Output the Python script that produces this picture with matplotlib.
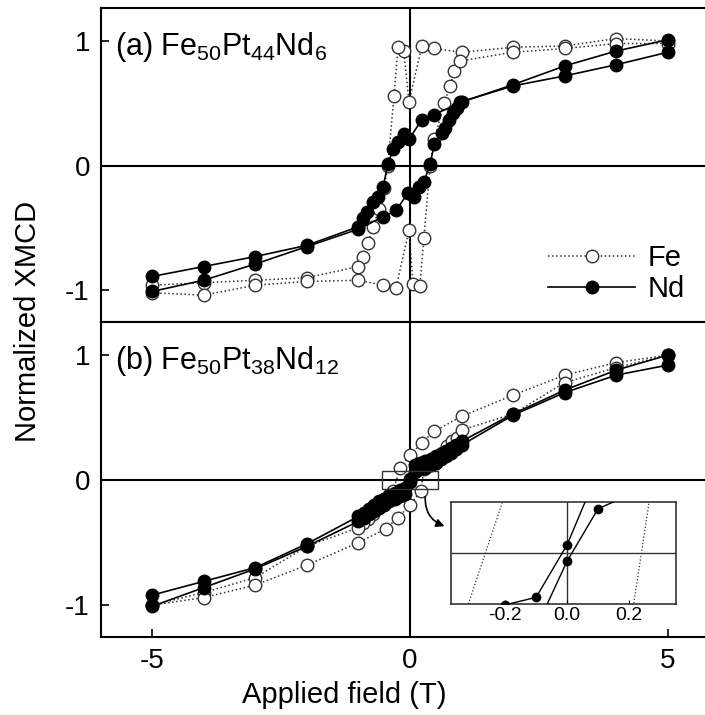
import matplotlib
matplotlib.use("Agg")
import matplotlib.pyplot as plt
from matplotlib.patches import Rectangle

plt.rcParams['font.family'] = 'Liberation Sans'
plt.rcParams['mathtext.fontset'] = 'custom'
plt.rcParams['mathtext.rm'] = 'Liberation Sans'
plt.rcParams['axes.unicode_minus'] = False

# (a) Fe50Pt44Nd6 - Fe loop, field going down then up
fe_a_down_x = [5, 4, 3, 2, 1, 0.47, 0.23, -0.02, -0.12, -0.23, -0.31, -0.43, -0.5, -0.6,
               -0.72, -0.81, -0.91, -1.0, -2, -3, -4, -5]
fe_a_down_y = [1.0, 1.02, 0.96, 0.95, 0.91, 0.94, 0.96, 0.51, 0.92, 0.95, 0.56, 0.0, -0.18, -0.35,
               -0.49, -0.62, -0.73, -0.81, -0.90, -0.92, -0.94, -0.96]
fe_a_up_x = [-5, -4, -3, -2, -1, -0.52, -0.27, -0.02, 0.06, 0.19, 0.27, 0.39, 0.47, 0.66,
             0.78, 0.85, 0.97, 2, 3, 4, 5]
fe_a_up_y = [-1.02, -1.04, -0.96, -0.93, -0.92, -0.96, -0.98, -0.52, -0.95, -0.97, -0.58, 0.0, 0.21, 0.5,
             0.64, 0.76, 0.84, 0.91, 0.94, 0.98, 0.98]

# (a) Nd loop
nd_a_down_x = [5, 4, 3, 2, 1, 0.47, 0.23, -0.02, -0.12, -0.23, -0.33, -0.43, -0.52, -0.62,
               -0.72, -0.83, -0.91, -1.0, -2, -3, -4, -5]
nd_a_down_y = [1.01, 0.92, 0.80, 0.65, 0.51, 0.41, 0.37, 0.21, 0.25, 0.19, 0.13, 0.01, -0.17, -0.25,
               -0.29, -0.37, -0.42, -0.49, -0.64, -0.73, -0.81, -0.89]
nd_a_up_x = [-5, -4, -3, -2, -1, -0.52, -0.27, -0.04, 0.08, 0.18, 0.27, 0.39, 0.47, 0.62,
             0.68, 0.76, 0.84, 0.91, 0.97, 2, 3, 4, 5]
nd_a_up_y = [-1.01, -0.92, -0.79, -0.65, -0.51, -0.41, -0.36, -0.22, -0.25, -0.17, -0.13, 0.01, 0.17, 0.26,
             0.30, 0.37, 0.42, 0.46, 0.51, 0.64, 0.72, 0.81, 0.91]

# (b) Fe50Pt38Nd12 - Fe loop
fe_b_down_x = [5, 4, 3, 2, 1, 0.47, 0.23, 0.0, -0.19, -0.33, -0.5, -0.62, -0.72, -0.81,
               -0.91, -1.0, -2, -3, -4, -5]
fe_b_down_y = [1.0, 0.94, 0.84, 0.68, 0.51, 0.39, 0.30, 0.20, 0.10, -0.09, -0.16, -0.22, -0.27, -0.31,
               -0.34, -0.38, -0.53, -0.78, -0.90, -1.0]
fe_b_up_x = [-5, -4, -3, -2, -1, -0.47, -0.23, 0.0, 0.21, 0.27, 0.5, 0.62, 0.72, 0.81,
             0.91, 1.0, 2, 3, 4, 5]
fe_b_up_y = [-1.0, -0.94, -0.84, -0.68, -0.50, -0.39, -0.30, -0.20, -0.09, 0.09, 0.16, 0.22, 0.27, 0.31,
             0.34, 0.40, 0.53, 0.78, 0.90, 1.0]

# (b) Nd loop
nd_b_down_x = [5, 4, 3, 2, 1, 0.9, 0.8, 0.7, 0.6, 0.5, 0.4, 0.3, 0.2, 0.1, 0.0,
               -0.1, -0.2, -0.3, -0.4, -0.5, -0.6, -0.7, -0.8, -0.9, -1, -2, -3, -4, -5]
nd_b_down_y = [1.0, 0.88, 0.72, 0.53, 0.31, 0.28, 0.26, 0.23, 0.21, 0.19, 0.17, 0.15, 0.14, 0.12, 0.012,
               -0.065, -0.076, -0.10, -0.12, -0.15, -0.17, -0.20, -0.23, -0.26, -0.29, -0.51, -0.70, -0.81, -0.92]
nd_b_up_x = [-5, -4, -3, -2, -1, -0.9, -0.8, -0.7, -0.6, -0.5, -0.4, -0.3, -0.2, -0.1, 0.0,
             0.1, 0.2, 0.3, 0.4, 0.5, 0.6, 0.7, 0.8, 0.9, 1, 2, 3, 4, 5]
nd_b_up_y = [-1.01, -0.86, -0.71, -0.53, -0.33, -0.30, -0.27, -0.25, -0.22, -0.20, -0.17, -0.15, -0.13, -0.11, -0.012,
             0.065, 0.085, 0.10, 0.12, 0.14, 0.17, 0.19, 0.22, 0.25, 0.28, 0.52, 0.70, 0.84, 0.92]

fe_style = dict(color='#333333', ls=':', lw=1.1, marker='o', ms=9,
                mfc='white', mec='#333333', mew=1.0)
nd_style = dict(color='black', ls='-', lw=1.2, marker='o', ms=9,
                mfc='black', mec='black')

fig = plt.figure(figsize=(7.05, 7.15), dpi=100)
ax_a = fig.add_axes([0.1433, 0.5497, 0.8567, 0.4391])
ax_b = fig.add_axes([0.1433, 0.1091, 0.8567, 0.4406])

panels = [
    (ax_a, fe_a_down_x, fe_a_down_y, fe_a_up_x, fe_a_up_y,
     nd_a_down_x, nd_a_down_y, nd_a_up_x, nd_a_up_y,
     r'(a) Fe$_{50}$Pt$_{44}$Nd$_{6}$'),
    (ax_b, fe_b_down_x, fe_b_down_y, fe_b_up_x, fe_b_up_y,
     nd_b_down_x, nd_b_down_y, nd_b_up_x, nd_b_up_y,
     r'(b) Fe$_{50}$Pt$_{38}$Nd$_{12}$'),
]

for ax, fdx, fdy, fux, fuy, ndx, ndy, nux, nuy, label in panels:
    ax.axhline(0, color='black', lw=1.5, zorder=1)
    ax.axvline(0, color='black', lw=1.5, zorder=1)
    fe_line, = ax.plot(fdx, fdy, label='Fe', zorder=3, **fe_style)
    ax.plot(fux, fuy, zorder=3, **fe_style)
    nd_line, = ax.plot(ndx, ndy, label='Nd', zorder=4, **nd_style)
    ax.plot(nux, nuy, zorder=4, **nd_style)
    ax.set_xlim(-5.99, 5.72)
    ax.set_ylim(-1.255, 1.265)
    ax.set_yticks([-1, 0, 1])
    ax.set_yticklabels(['-1', '0', '1'])
    ax.set_xticks([-5, 0, 5])
    ax.set_xticklabels(['-5', '0', '5'])
    ax.tick_params(direction='in', length=6, width=1.2, labelsize=20, pad=8)
    for s in ax.spines.values():
        s.set_linewidth(1.5)
    ax.spines['right'].set_visible(False)
    ax.text(-5.72, 0.885, label, fontsize=22, va='baseline', ha='left')

ax_a.tick_params(axis='x', labelbottom=False, length=0)

ax_a.legend(loc='center left', bbox_to_anchor=(0.74, 0.153), frameon=False,
            fontsize=21, borderpad=0, borderaxespad=0, handlelength=3.0,
            handletextpad=0.4, labelspacing=0.1)

fig.text(0.04, 0.55, 'Normalized XMCD', rotation=90, fontsize=21, ha='center', va='center')
fig.text(0.4877, 0.028, 'Applied field (T)', fontsize=21, ha='center', va='center')

# zoom box in (b) and the arrow to the inset
ax_b.add_patch(Rectangle((-0.55, -0.075), 1.1, 0.15, fill=False, ec='#333333', lw=1.0, zorder=5))
ax_b.annotate('', xy=(0.72, -0.376), xytext=(0.3, -0.11),
              arrowprops=dict(arrowstyle='-|>', color='black', lw=1.2,
                              connectionstyle='arc3,rad=0.4', mutation_scale=12))

# inset
ax_in = fig.add_axes([0.64, 0.155, 0.319, 0.143])
ax_in.axhline(0, color='#333333', lw=1.0, zorder=1)
ax_in.axvline(0, color='#333333', lw=1.0, zorder=1)
for xs, ys in [(fe_b_down_x, fe_b_down_y), (fe_b_up_x, fe_b_up_y)]:
    ax_in.plot(xs, ys, color='#333333', ls=':', lw=0.9, marker='o', ms=6,
               mfc='white', mec='#333333', zorder=3)
for xs, ys in [(nd_b_down_x, nd_b_down_y), (nd_b_up_x, nd_b_up_y)]:
    ax_in.plot(xs, ys, color='black', ls='-', lw=1.0, marker='o', ms=6,
               mfc='black', mec='black', zorder=4)
ax_in.set_xlim(-0.374, 0.352)
ax_in.set_ylim(-0.075, 0.075)
ax_in.set_xticks([-0.2, 0.0, 0.2])
ax_in.set_xticklabels(['-0.2', '0.0', '0.2'])
ax_in.set_yticks([])
ax_in.tick_params(direction='in', length=3, labelsize=14, pad=2)
for s in ax_in.spines.values():
    s.set_linewidth(1.2)
    s.set_color('#333333')

fig.savefig('out.png', dpi=100)
